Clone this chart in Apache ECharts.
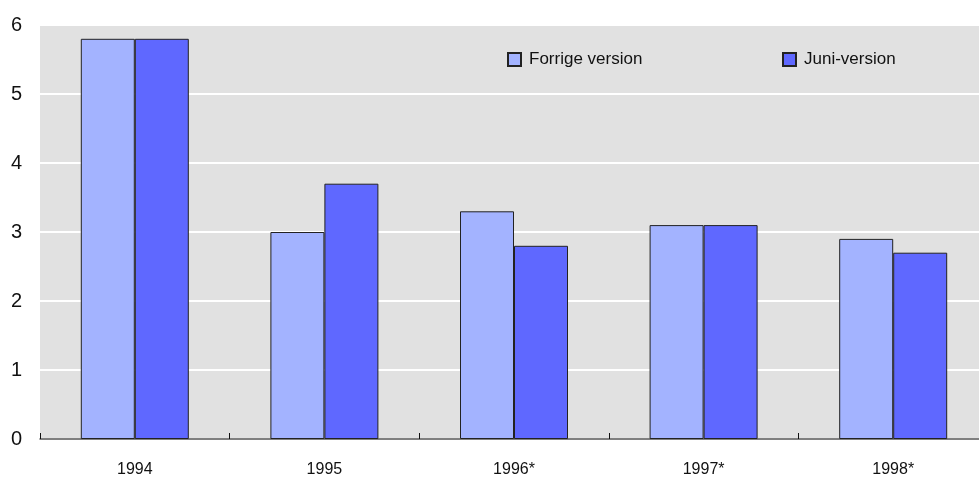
<!DOCTYPE html>
<html>
<head>
<meta charset="utf-8">
<script src="https://cdn.jsdelivr.net/npm/echarts@6/dist/echarts.min.js"></script>
<style>
  html, body { margin: 0; padding: 0; background: #fff; overflow: hidden; }
  #main { width: 988px; height: 480px; }
</style>
</head>
<body>
<div id="main"></div>
<script>
const years = ["1994", "1995", "1996*", "1997*", "1998*"]
const forrige = [5.8, 3.0, 3.3, 3.1, 2.9]
const juni = [5.8, 3.7, 2.8, 3.1, 2.7]
const yTicks = [0, 1, 2, 3, 4, 5, 6]

const font = "'Liberation Sans Narrow', 'Arial Narrow', 'Liberation Sans', sans-serif"

const chart = echarts.init(document.getElementById("main"))

const legendBase = {
  top: 46,
  icon: "rect",
  itemWidth: 13,
  itemHeight: 13,
  itemGap: 6,
  textStyle: { fontSize: 17, color: "#111", fontFamily: font, padding: [0, 0, 0, 3] },
}

const option = {
  animation: false,
  textStyle: { fontFamily: font },
  grid: {
    left: 40,
    right: 0,
    top: 25,
    bottom: 41,
    show: true,
    backgroundColor: "#e1e1e1",
    borderWidth: 0,
  },
  legend: [
    Object.assign({ data: ["Forrige version"], left: 502 }, legendBase),
    Object.assign({ data: ["Juni-version"], left: 777 }, legendBase),
  ],
  xAxis: {
    type: "category",
    data: years,
    axisLine: { lineStyle: { color: "#555", width: 1.5 } },
    axisTick: { show: true, inside: true, length: 6, lineStyle: { color: "#111" } },
    axisLabel: { fontSize: 16, color: "#111", margin: 23 },
  },
  yAxis: {
    type: "value",
    min: yTicks[0],
    max: yTicks[yTicks.length - 1],
    interval: 1,
    axisLine: { show: false },
    axisTick: { show: false },
    axisLabel: { fontSize: 20, color: "#111", margin: 18 },
    splitLine: { lineStyle: { color: "#ffffff", width: 2 } },
  },
  series: [
    {
      name: "Forrige version",
      type: "bar",
      data: forrige,
      barWidth: 54,
      barGap: "0%",
      itemStyle: { color: "#a3b3ff", borderColor: "#222", borderWidth: 1 },
    },
    {
      name: "Juni-version",
      type: "bar",
      data: juni,
      barWidth: 54,
      barGap: "0%",
      itemStyle: { color: "#5f68ff", borderColor: "#222", borderWidth: 1 },
    },
  ],
}

option && chart.setOption(option)
</script>
</body>
</html>
